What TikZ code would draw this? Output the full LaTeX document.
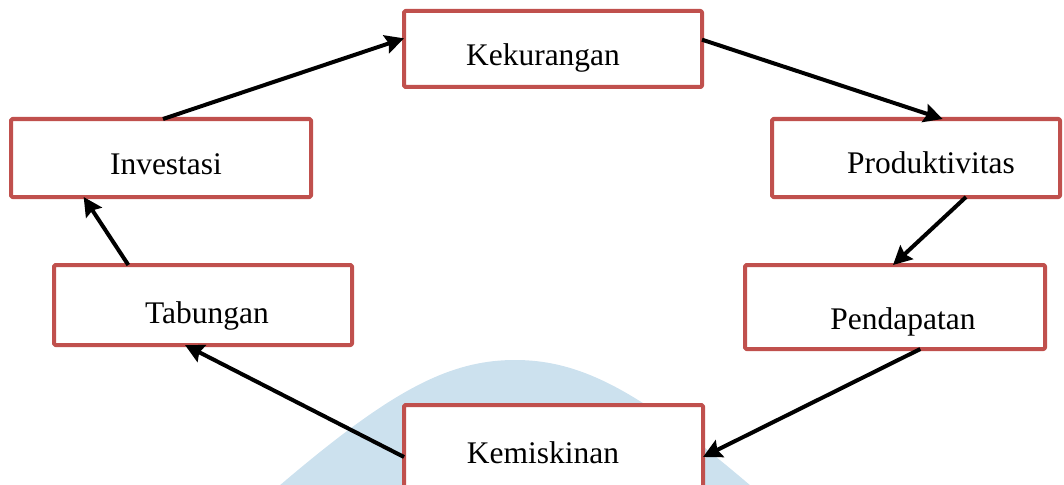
\documentclass[tikz,border=0pt]{standalone}
\usepackage{fontspec}
\setmainfont{Liberation Serif}
\usetikzlibrary{arrows.meta,calc}

\definecolor{boxred}{RGB}{192,80,77}
\definecolor{paleblue}{RGB}{204,225,238}

\begin{document}
\begin{tikzpicture}[x=0.75pt,y=-0.75pt,
  stage/.style={draw=boxred, line width=3pt, fill=white, rectangle,
    inner sep=0pt, outer sep=0pt, line join=round, rounded corners=1pt},
  txt/.style={inner sep=0pt, anchor=base, font=\fontsize{23.6}{28}\selectfont},
  flow/.style={line width=3pt, -{Stealth[length=14pt,width=14pt,inset=2pt]}}]

\useasboundingbox (0,0) rectangle (1064,485);
\clip (0,0) rectangle (1064,485);

% pale arc behind the lower box
\fill[paleblue] (272,492) .. controls (385,395) and (445,360) .. (515,360)
  .. controls (585,360) and (645,395) .. (758,492) -- cycle;

% boxes of the cycle
\node[stage, minimum width=223.5pt, minimum height=57pt]   (kek) at (553,49) {};
\node[stage, minimum width=225pt,   minimum height=58.5pt] (inv) at (161,158) {};
\node[stage, minimum width=216pt,   minimum height=58.5pt] (pro) at (916,158) {};
\node[stage, minimum width=223.5pt, minimum height=60pt]   (tab) at (203,305) {};
\node[stage, minimum width=225pt,   minimum height=63pt]   (pen) at (895,307) {};
\node[stage, minimum width=224.25pt,minimum height=71.25pt](kem) at (553.5,452.5) {};

% labels
\node[txt] (tkek) at (543,65)  {Kekurangan};
\node[txt] (tinv) at (166,174) {Investasi};
\node[txt] (tpro) at (931,173) {Produktivitas};
\node[txt] (ttab) at (207,323) {Tabungan};
\node[txt] (tpen) at (903,329) {Pendapatan};
\node[txt] (tkem) at (543,463) {Kemiskinan};

% arrows
\draw[flow] ([xshift=1.5pt]inv.north) -- ([yshift=8pt]kek.west);
\draw[flow] ([yshift=7pt]kek.east) -- ([xshift=20pt]pro.north);
\draw[flow] ([xshift=37.5pt]pro.south) -- ([xshift=-1.5pt]pen.north);
\draw[flow] ([xshift=19pt]pen.south) -- ([yshift=-39pt]kem.north east);
\draw[flow] ([yshift=-39pt]kem.north west) -- ([xshift=-13.5pt]tab.south);
\draw[flow] ([xshift=-56pt]tab.north) -- ([xshift=-58pt]inv.south);

\end{tikzpicture}
\end{document}
